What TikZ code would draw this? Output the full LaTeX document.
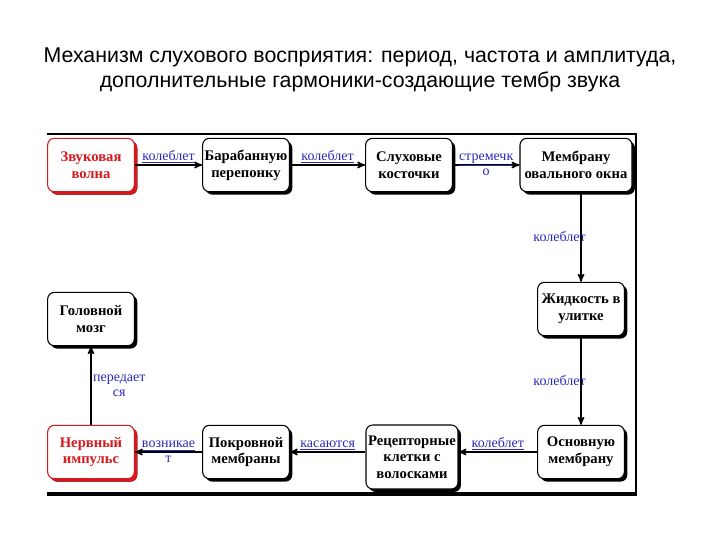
\documentclass[tikz,border=0pt]{standalone}
\usepackage{fontspec}
\setmainfont{Liberation Serif}
\newfontfamily\titlefont{Liberation Sans}
\usetikzlibrary{arrows, shadows, positioning}
\definecolor{wavered}{RGB}{215,25,30}
\definecolor{linkblue}{RGB}{40,40,190}
\newcommand{\lnk}[1]{\underline{#1}}
\tikzset{
>=stealth', % bold arrow heads
stage/.style={draw=black, thick, fill=white, rounded corners=5pt, align=center,
  minimum width=65pt, minimum height=40pt, inner sep=1pt,
  font=\bfseries\fontsize{11}{12.5}\selectfont,
  drop shadow={shadow xshift=2.2pt, shadow yshift=-2.2pt, opacity=1, fill=black}}, % black boxes
alarm/.style={stage, draw=wavered, text=wavered,
  drop shadow={shadow xshift=2.2pt, shadow yshift=-2.2pt, opacity=1, fill=wavered}}, % red boxes
lbl/.style={text=linkblue, font=\fontsize{10.5}{11}\selectfont, inner sep=1pt, align=center}, % edge labels
flow/.style={->, line width=1.1pt}
}

\begin{document}
\begin{tikzpicture}[x=0.75pt, y=-0.75pt]
  \useasboundingbox (0,0) rectangle (720,540);
  \node[font=\titlefont\fontsize{16}{19}\selectfont, align=center] (title) at (360,70)
    {Механизм слухового восприятия: период, частота и амплитуда,\\дополнительные гармоники-создающие тембр звука};

  % frame of the scheme
  \draw[line width=2.2pt] (47,134) -- (637,134);
  \draw[line width=1.4pt] (636,134) -- (636,494);
  \draw[line width=2.4pt] (47,494) -- (637,494);

  \node[alarm] (zvuk) at (91,165) {Звуковая\\волна};
  \node[stage] (baraban) at (246,165) {Барабанную\\перепонку};
  \node[stage] (kostochki) at (409,165) {Слуховые\\косточки};
  \node[stage, minimum width=84pt] (oval) at (576,165) {Мембрану\\овального окна};
  \node[stage] (ulitka) at (581,309) {Жидкость в\\улитке};
  \node[stage] (osnov) at (581,452) {Основную\\мембрану};
  \node[stage, minimum width=69pt, minimum height=48pt] (recep) at (412,457) {Рецепторные\\клетки с\\волосками};
  \node[stage] (pokrov) at (246,452) {Покровной\\мембраны};
  \node[alarm] (nerv) at (91,452) {Нервный\\импульс};
  \node[stage] (mozg) at (91,319) {Головной\\мозг};

  \draw[flow] (zvuk) -- node[lbl, above]{\lnk{колеблет}} (baraban);
  \draw[flow] (baraban) -- node[lbl, above]{\lnk{колеблет}} (kostochki);
  \draw[flow] (kostochki) -- node[lbl]{\lnk{стремечк}\\о} (oval);
  \draw[flow] (oval.south -| ulitka) -- node[lbl, left, xshift=5pt]{колеблет} (ulitka);
  \draw[flow] (ulitka) -- node[lbl, left, xshift=5pt]{колеблет} (osnov);
  \draw[flow] (osnov) -- node[lbl, above]{\lnk{колеблет}} (osnov -| recep.east);
  \draw[flow] (recep.west |- pokrov) -- node[lbl, above]{\lnk{касаются}} (pokrov);
  \draw[flow] (pokrov) -- node[lbl]{\lnk{возникае}\\т} (nerv);
  \draw[flow] (nerv) -- node[lbl, right]{передает\\ся} (mozg);
\end{tikzpicture}
\end{document}
